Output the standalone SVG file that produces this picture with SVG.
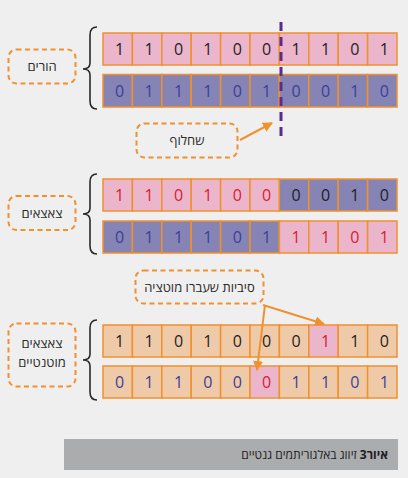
<svg xmlns="http://www.w3.org/2000/svg" width="408" height="478" viewBox="0 0 408 478">
<defs>
<style>
.bg{fill:#efefef}
.pk{fill:#ebb6cc;stroke:#f0912e;stroke-width:1.5}
.bl{fill:#8584b4;stroke:#f0912e;stroke-width:1.5}
.tn{fill:#efcaa8;stroke:#f0912e;stroke-width:1.5}
.d{font-family:"Open Sans","Liberation Sans",sans-serif;font-size:16px;text-anchor:middle}
.k{fill:#1e1e1e}.b{fill:#3b3f98}.r{fill:#d7202f}
.lab{fill:none;stroke:#f0912e;stroke-width:2;stroke-dasharray:5 3.5}
.t{font-family:"Open Sans","Liberation Sans",sans-serif;font-size:13px;fill:#2a2a2a;text-anchor:middle}
.br{fill:none;stroke:#2a2a2a;stroke-width:1.6}
.ar{stroke:#f0912e;stroke-width:2;fill:none;marker-end:url(#ah)}
</style>
<marker id="ah" viewBox="0 0 10 10" refX="9" refY="5" markerWidth="5" markerHeight="5" orient="auto"><path d="M0,0 L10,5 L0,10 z" fill="#f0912e"/></marker>
</defs>
<rect class="bg" x="0" y="0" width="408" height="478"/>

<g id="parent1">
<rect class="pk" x="103" y="33" width="29.4" height="32"/><rect class="pk" x="132.4" y="33" width="29.4" height="32"/><rect class="pk" x="161.8" y="33" width="29.4" height="32"/><rect class="pk" x="191.2" y="33" width="29.4" height="32"/><rect class="pk" x="220.6" y="33" width="29.4" height="32"/><rect class="pk" x="250" y="33" width="29.4" height="32"/><rect class="pk" x="279.4" y="33" width="29.4" height="32"/><rect class="pk" x="308.8" y="33" width="29.4" height="32"/><rect class="pk" x="338.2" y="33" width="29.4" height="32"/><rect class="pk" x="367.6" y="33" width="29.4" height="32"/>
<g class="d k"><text x="119.7" y="54.5">1</text><text x="149.1" y="54.5">1</text><text x="178.5" y="54.5">0</text><text x="207.9" y="54.5">1</text><text x="237.3" y="54.5">0</text><text x="266.7" y="54.5">0</text><text x="296.1" y="54.5">1</text><text x="325.5" y="54.5">1</text><text x="354.9" y="54.5">0</text><text x="384.3" y="54.5">1</text></g>
</g>

<g id="parent2">
<rect class="bl" x="103" y="74.5" width="29.4" height="32.5"/><rect class="bl" x="132.4" y="74.5" width="29.4" height="32.5"/><rect class="bl" x="161.8" y="74.5" width="29.4" height="32.5"/><rect class="bl" x="191.2" y="74.5" width="29.4" height="32.5"/><rect class="bl" x="220.6" y="74.5" width="29.4" height="32.5"/><rect class="bl" x="250" y="74.5" width="29.4" height="32.5"/><rect class="bl" x="279.4" y="74.5" width="29.4" height="32.5"/><rect class="bl" x="308.8" y="74.5" width="29.4" height="32.5"/><rect class="bl" x="338.2" y="74.5" width="29.4" height="32.5"/><rect class="bl" x="367.6" y="74.5" width="29.4" height="32.5"/>
<g class="d b"><text x="119.7" y="96.5">0</text><text x="149.1" y="96.5">1</text><text x="178.5" y="96.5">1</text><text x="207.9" y="96.5">1</text><text x="237.3" y="96.5">0</text><text x="266.7" y="96.5">1</text><text x="296.1" y="96.5">0</text><text x="325.5" y="96.5">0</text><text x="354.9" y="96.5">1</text><text x="384.3" y="96.5">0</text></g>
</g>

<g id="child1">
<rect class="pk" x="103" y="179" width="29.4" height="32"/><rect class="pk" x="132.4" y="179" width="29.4" height="32"/><rect class="pk" x="161.8" y="179" width="29.4" height="32"/><rect class="pk" x="191.2" y="179" width="29.4" height="32"/><rect class="pk" x="220.6" y="179" width="29.4" height="32"/><rect class="pk" x="250" y="179" width="29.4" height="32"/><rect class="bl" x="279.4" y="179" width="29.4" height="32"/><rect class="bl" x="308.8" y="179" width="29.4" height="32"/><rect class="bl" x="338.2" y="179" width="29.4" height="32"/><rect class="bl" x="367.6" y="179" width="29.4" height="32"/>
<g class="d r"><text x="119.7" y="200.5">1</text><text x="149.1" y="200.5">1</text><text x="178.5" y="200.5">0</text><text x="207.9" y="200.5">1</text><text x="237.3" y="200.5">0</text><text x="266.7" y="200.5">0</text></g>
<g class="d k"><text x="296.1" y="200.5">0</text><text x="325.5" y="200.5">0</text><text x="354.9" y="200.5">1</text><text x="384.3" y="200.5">0</text></g>
</g>

<g id="child2">
<rect class="bl" x="103" y="221" width="29.4" height="32"/><rect class="bl" x="132.4" y="221" width="29.4" height="32"/><rect class="bl" x="161.8" y="221" width="29.4" height="32"/><rect class="bl" x="191.2" y="221" width="29.4" height="32"/><rect class="bl" x="220.6" y="221" width="29.4" height="32"/><rect class="bl" x="250" y="221" width="29.4" height="32"/><rect class="pk" x="279.4" y="221" width="29.4" height="32"/><rect class="pk" x="308.8" y="221" width="29.4" height="32"/><rect class="pk" x="338.2" y="221" width="29.4" height="32"/><rect class="pk" x="367.6" y="221" width="29.4" height="32"/>
<g class="d b"><text x="119.7" y="242.5">0</text><text x="149.1" y="242.5">1</text><text x="178.5" y="242.5">1</text><text x="207.9" y="242.5">1</text><text x="237.3" y="242.5">0</text><text x="266.7" y="242.5">1</text></g>
<g class="d r"><text x="296.1" y="242.5">1</text><text x="325.5" y="242.5">1</text><text x="354.9" y="242.5">0</text><text x="384.3" y="242.5">1</text></g>
</g>

<g id="mutant1">
<rect class="tn" x="103" y="325" width="29.4" height="32"/><rect class="tn" x="132.4" y="325" width="29.4" height="32"/><rect class="tn" x="161.8" y="325" width="29.4" height="32"/><rect class="tn" x="191.2" y="325" width="29.4" height="32"/><rect class="tn" x="220.6" y="325" width="29.4" height="32"/><rect class="tn" x="250" y="325" width="29.4" height="32"/><rect class="tn" x="279.4" y="325" width="29.4" height="32"/><rect class="pk" x="308.8" y="325" width="29.4" height="32"/><rect class="tn" x="338.2" y="325" width="29.4" height="32"/><rect class="tn" x="367.6" y="325" width="29.4" height="32"/>
<g class="d k"><text x="119.7" y="346.5">1</text><text x="149.1" y="346.5">1</text><text x="178.5" y="346.5">0</text><text x="207.9" y="346.5">1</text><text x="237.3" y="346.5">0</text><text x="266.7" y="346.5">0</text><text x="296.1" y="346.5">0</text><text x="354.9" y="346.5">1</text><text x="384.3" y="346.5">0</text></g>
<text class="d r" x="325.5" y="346.5">1</text>
</g>

<g id="mutant2">
<rect class="tn" x="103" y="366" width="29.4" height="32"/><rect class="tn" x="132.4" y="366" width="29.4" height="32"/><rect class="tn" x="161.8" y="366" width="29.4" height="32"/><rect class="tn" x="191.2" y="366" width="29.4" height="32"/><rect class="tn" x="220.6" y="366" width="29.4" height="32"/><rect class="pk" x="250" y="366" width="29.4" height="32"/><rect class="tn" x="279.4" y="366" width="29.4" height="32"/><rect class="tn" x="308.8" y="366" width="29.4" height="32"/><rect class="tn" x="338.2" y="366" width="29.4" height="32"/><rect class="tn" x="367.6" y="366" width="29.4" height="32"/>
<g class="d b"><text x="119.7" y="387.5">0</text><text x="149.1" y="387.5">1</text><text x="178.5" y="387.5">1</text><text x="207.9" y="387.5">0</text><text x="237.3" y="387.5">0</text><text x="296.1" y="387.5">1</text><text x="325.5" y="387.5">1</text><text x="354.9" y="387.5">0</text><text x="384.3" y="387.5">1</text></g>
<text class="d r" x="266.7" y="387.5">0</text>
</g>

<g id="label-parents">
<rect class="lab" x="8.5" y="49.5" width="67" height="34" rx="8"/>
<text class="t" x="42" y="71" direction="rtl">הורים</text>
</g>
<g id="label-crossover">
<rect class="lab" x="136.5" y="123.5" width="101" height="34" rx="8"/>
<text class="t" x="187" y="145" direction="rtl">שחלוף</text>
</g>
<g id="label-children">
<rect class="lab" x="8.5" y="196" width="67" height="34" rx="8"/>
<text class="t" x="42" y="217.5" direction="rtl">צאצאים</text>
</g>
<g id="label-mutants">
<rect class="lab" x="8.5" y="323.5" width="67" height="63" rx="8"/>
<text class="t" x="42" y="348" direction="rtl">צאצאים</text>
<text class="t" x="42" y="366.5" direction="rtl">מוטנטיים</text>
</g>
<g id="label-mutated-bits">
<rect class="lab" x="135.5" y="270.5" width="128" height="33" rx="8"/>
<text class="t" x="199.5" y="291.5" direction="rtl">סיביות שעברו מוטציה</text>
</g>

<g id="connectors">
<line x1="281" y1="22" x2="281" y2="138" stroke="#5a2c8e" stroke-width="3" stroke-dasharray="9 6"/>
<path class="br" d="M97,27 Q90,27 90,35 L90,63 Q90,69 83,69 Q90,69 90,75 L90,101 Q90,109 97,109"/>
<path class="br" d="M97,174 Q90,174 90,182 L90,208 Q90,214 83,214 Q90,214 90,220 L90,246 Q90,254 97,254"/>
<path class="br" d="M97,320 Q90,320 90,328 L90,354 Q90,360 83,360 Q90,360 90,366 L90,392 Q90,400 97,400"/>
<line class="ar" x1="240" y1="140" x2="272" y2="123"/>
<line class="ar" x1="263" y1="305" x2="324" y2="324"/>
<line class="ar" x1="265" y1="305" x2="257" y2="370"/>
</g>

<g id="caption">
<rect x="64" y="439" width="334" height="31" fill="#aaacae"/>
<text x="388" y="459" direction="rtl" font-family="'Open Sans','Liberation Sans',sans-serif" font-size="12" fill="#1e1e1e"><tspan font-weight="bold">איור3</tspan> זיווג באלגוריתמים גנטיים</text>
</g>
</svg>
